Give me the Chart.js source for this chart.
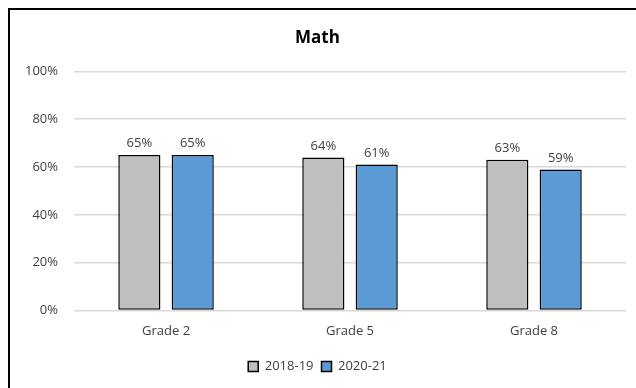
<!DOCTYPE html>
<html>
<head>
<meta charset="utf-8">
<script src="https://cdn.jsdelivr.net/npm/chart.js@4"></script>
<style>
  html, body { margin: 0; padding: 0; background: #fff; }
  #wrap { position: relative; width: 636px; height: 388px; }
</style>
</head>
<body>
<div id="wrap"><canvas id="chart" width="636" height="388"></canvas></div>
<script>
const categories = ['Grade 2', 'Grade 5', 'Grade 8'];
const series2018 = [65, 64, 63];
const series2020 = [65, 61, 59];
const seriesNames = ['2018-19', '2020-21'];
const yTicks = [0, 20, 40, 60, 80, 100];

const FONT = "'Open Sans', 'Liberation Sans', sans-serif";

// white background plus the black frame on the left and top edges
const framePlugin = {
  id: 'frame',
  beforeDraw(chart) {
    const ctx = chart.ctx;
    ctx.save();
    ctx.fillStyle = '#ffffff';
    ctx.fillRect(0, 0, chart.width, chart.height);
    ctx.strokeStyle = '#000000';
    ctx.lineWidth = 2;
    ctx.beginPath();
    ctx.moveTo(9, chart.height + 2);
    ctx.lineTo(9, 9);
    ctx.lineTo(chart.width + 2, 9);
    ctx.stroke();
    ctx.restore();
  }
};

// value labels above each bar
const valueLabels = {
  id: 'valueLabels',
  afterDatasetsDraw(chart) {
    const ctx = chart.ctx;
    ctx.save();
    ctx.font = '13px ' + FONT;
    ctx.fillStyle = '#404040';
    ctx.textAlign = 'center';
    ctx.textBaseline = 'bottom';
    chart.data.datasets.forEach((ds, i) => {
      chart.getDatasetMeta(i).data.forEach((bar, j) => {
        ctx.fillText(ds.data[j] + '%', bar.x, bar.y - 5);
      });
    });
    ctx.restore();
  }
};

new Chart(document.getElementById('chart'), {
  type: 'bar',
  data: {
    labels: categories,
    datasets: [
      {
        label: seriesNames[0],
        data: series2018,
        backgroundColor: '#BFBFBF',
        borderColor: '#000000',
        borderWidth: 1.5,
        borderSkipped: false,
        categoryPercentage: 0.58,
        barPercentage: 0.79
      },
      {
        label: seriesNames[1],
        data: series2020,
        backgroundColor: '#5B9BD5',
        borderColor: '#000000',
        borderWidth: 1.5,
        borderSkipped: false,
        categoryPercentage: 0.58,
        barPercentage: 0.79
      }
    ]
  },
  options: {
    responsive: false,
    animation: false,
    devicePixelRatio: 1,
    layout: { padding: { left: 9, right: 10, top: 28, bottom: 5 } },
    plugins: {
      title: {
        display: true,
        text: 'Math',
        color: '#000000',
        font: { family: FONT, size: 17, weight: 'bold' },
        padding: { top: 0, bottom: 23 }
      },
      legend: {
        position: 'bottom',
        labels: {
          color: '#404040',
          font: { family: FONT, size: 13 },
          boxWidth: 10,
          boxHeight: 10,
          padding: 8
        }
      },
      tooltip: { enabled: false }
    },
    scales: {
      x: {
        grid: { display: false, drawTicks: false },
        border: { display: false },
        ticks: { color: '#404040', font: { family: FONT, size: 13 }, padding: 13 }
      },
      y: {
        min: 0,
        max: 100,
        afterBuildTicks(scale) { scale.ticks = yTicks.map(v => ({ value: v })); },
        grid: { color: '#D9D9D9', lineWidth: 1.5, drawTicks: false },
        border: { display: false },
        ticks: {
          color: '#404040',
          font: { family: FONT, size: 13 },
          padding: 16,
          callback: v => v + '%'
        }
      }
    }
  },
  plugins: [framePlugin, valueLabels]
});
</script>
</body>
</html>
